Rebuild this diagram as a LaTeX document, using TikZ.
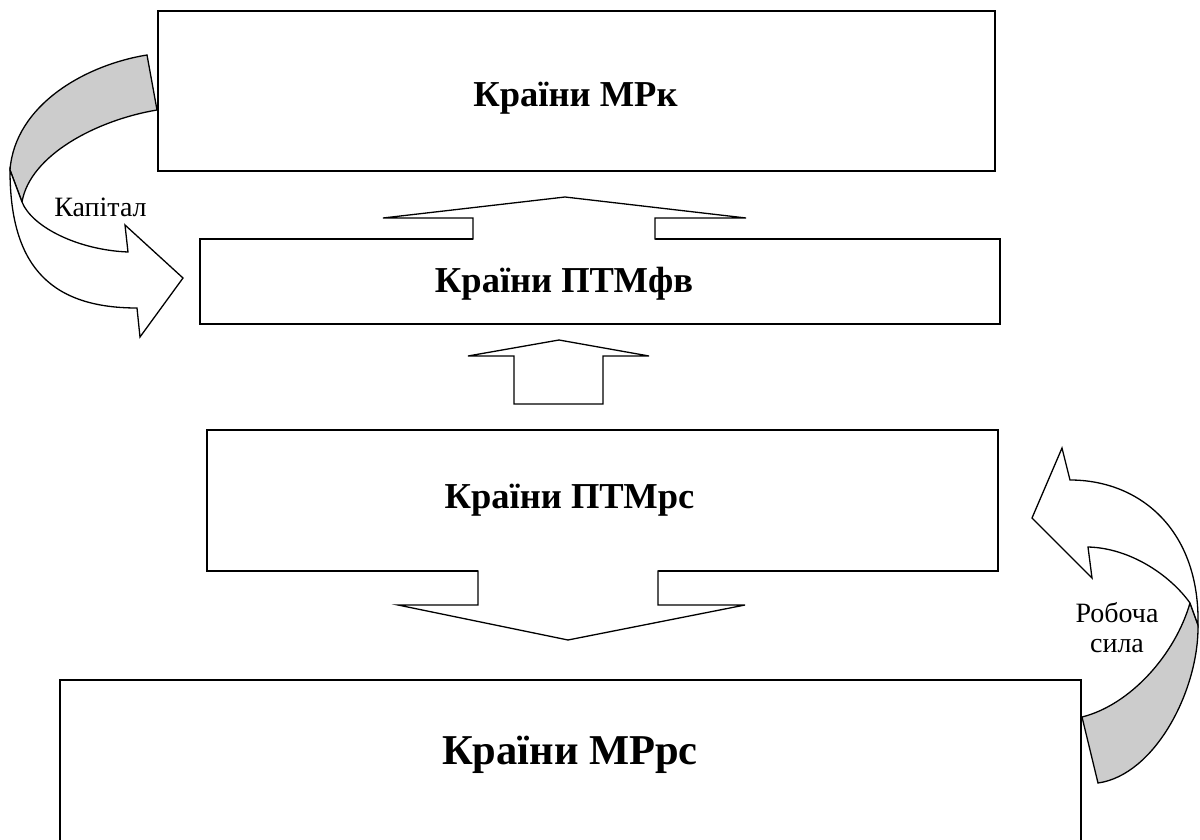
\documentclass[tikz,border=0pt]{standalone}
\usepackage{fontspec}
\setmainfont{Liberation Serif}
\begin{document}
\begin{tikzpicture}[x=1pt,y=-1pt,
  line join=miter,
  box/.style={draw, line width=1.3pt, inner sep=0pt},
  title/.style={font=\bfseries\fontsize{36.5}{40}\selectfont, inner sep=0pt, anchor=base},
  bigtitle/.style={font=\bfseries\fontsize{42.5}{46}\selectfont, inner sep=0pt, anchor=base},
  lbl/.style={font=\fontsize{28}{30}\selectfont, inner sep=0pt, align=center},
  blk/.style={draw, line width=1.3pt},
  ribbonback/.style={draw, fill=black!20, line width=1.3pt},
  ribbonfront/.style={draw, fill=white, line width=1.3pt}]
\useasboundingbox (0,0) rectangle (1200,840);
\clip (0,0) rectangle (1200,840);

% boxes
\node[box, minimum width=837pt, minimum height=160pt] (mrk) at (576.5,91) {};
\node[box, minimum width=800pt, minimum height=85pt] (ptmfv) at (600,281.5) {};
\node[box, minimum width=791pt, minimum height=141pt] (ptmrs) at (602.5,500.5) {};
\node[box, minimum width=1021pt, minimum height=200pt] (mrrs) at (570.5,780) {};

% texts
\node[title] (tmrk) at (575.5,107) {Країни МРк};
\node[title] (tptmfv) at (564,292) {Країни ПТМфв};
\node[title] (tptmrs) at (569.5,508) {Країни ПТМрс};
\node[bigtitle] (tmrrs) at (570,764) {Країни МРрс};

% block arrow: ПТМфв -> МРк
\fill[white] (473,240.5) -- (473,218) -- (383,218) -- (565,197) -- (746,218) -- (655,218) -- (655,240.5) -- cycle;
\draw[blk] (473,239.6) -- (473,218) -- (383,218) -- (565,197) -- (746,218) -- (655,218) -- (655,239.6);

% block arrow: ПТМрс -> ПТМфв
\draw[blk, fill=white] (514,404) -- (514,356) -- (468,356) -- (559,340) -- (649,356) -- (603,356) -- (603,404) -- cycle;

% block arrow: ПТМрс -> МРрс
\fill[white] (478,569.5) -- (478,605) -- (398,605) -- (568,640) -- (745,605) -- (658,605) -- (658,569.5) -- cycle;
\draw[blk] (478,570.4) -- (478,605) -- (398,605) -- (568,640) -- (745,605) -- (658,605) -- (658,570.4);

% left curved arrow (Капітал)
\draw[ribbonback] (147,55) .. controls (85,65) and (15,105) .. (10,170)
  -- (22,202) .. controls (30,155) and (97,120) .. (157,110) -- cycle;
\draw[ribbonfront] (10,170) .. controls (10,260) and (45,308) .. (137,308)
  -- (140,337) -- (183,278) -- (125,225) -- (128,252)
  .. controls (78,250) and (32,227) .. (22,202) -- cycle;
\node[lbl, anchor=base] (kap) at (100.5,216) {Капітал};

% right curved arrow (Робоча сила)
\draw[ribbonback] (1082,717) .. controls (1130,705) and (1175,655) .. (1190,603)
  -- (1198,625) .. controls (1199,690) and (1155,775) .. (1098,783) -- cycle;
\draw[ribbonfront] (1198,625) .. controls (1200,530) and (1140,480) .. (1070,480)
  -- (1062,448) -- (1032,518) -- (1092,578) -- (1088,547)
  .. controls (1130,548) and (1170,575) .. (1190,603) -- cycle;
\node[lbl] (rob) at (1117,628) {Робоча\\сила};
\end{tikzpicture}
\end{document}
